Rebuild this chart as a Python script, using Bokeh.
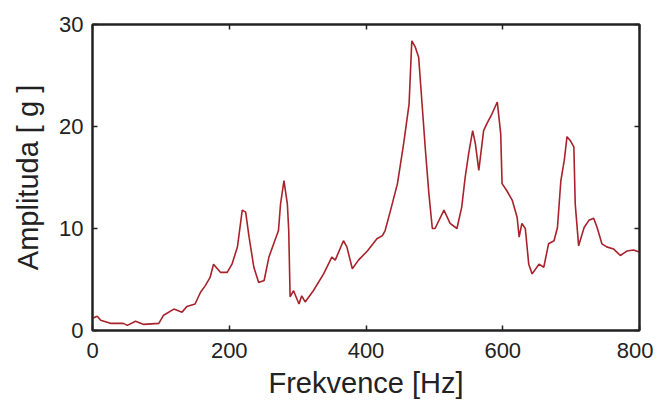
from bokeh.plotting import figure
from bokeh.models import LinearAxis, FixedTicker, Range1d
from bokeh.embed import file_html
from bokeh.resources import INLINE

freq_hz = [0, 7, 12, 26, 45, 51, 63, 75, 97, 104, 119, 131, 138, 150, 158, 165, 172, 177,
           187, 197, 204, 212, 219, 224, 229, 236, 243, 251, 258, 265, 272, 275, 280, 285,
           287, 289, 294, 302, 306, 311, 323, 338, 350, 355, 367, 372, 380, 389, 402, 416,
           424, 428, 436, 446, 455, 463, 467, 472, 477, 482, 487, 492, 497, 501, 514, 523,
           533, 540, 545, 550, 556, 560, 565, 572, 577, 584, 592, 597, 599, 606, 614, 621,
           624, 628, 633, 638, 643, 653, 660, 667, 675, 680, 685, 690, 694, 699, 704, 706,
           711, 719, 726, 733, 738, 745, 752, 762, 772, 782, 791, 800]
amplitude_g = [1.2, 1.4, 1.0, 0.7, 0.7, 0.5, 0.9, 0.6, 0.7, 1.5, 2.1, 1.8, 2.35, 2.6, 3.75,
               4.4, 5.2, 6.5, 5.7, 5.7, 6.5, 8.2, 11.8, 11.6, 9.15, 6.2, 4.7, 4.9, 7.2, 8.5,
               9.8, 12.4, 14.7, 12.4, 9.8, 3.3, 3.9, 2.6, 3.4, 2.8, 3.9, 5.55, 7.2, 6.9, 8.8,
               8.2, 6.05, 6.9, 7.8, 9.0, 9.3, 9.8, 11.8, 14.4, 18.3, 22.2, 28.4, 27.8, 26.8,
               22.2, 17.6, 13.4, 10.0, 10.0, 11.8, 10.5, 10.0, 12.1, 15.0, 17.3, 19.6, 18.3,
               15.7, 19.6, 20.3, 21.2, 22.4, 19.3, 14.4, 13.7, 12.75, 11.1, 9.15, 10.5, 10.0,
               6.5, 5.55, 6.5, 6.2, 8.5, 8.8, 10.1, 14.7, 16.7, 19.0, 18.6, 18.0, 12.4, 8.3,
               10.1, 10.8, 11.0, 10.1, 8.5, 8.2, 8.0, 7.35, 7.8, 7.9, 7.7]
x_ticks = [0, 200, 400, 600, 800]
y_ticks = [0, 10, 20, 30]
x_label = "Frekvence [Hz]"
y_label = "Amplituda [ g ]"

FONT = "Liberation Sans"

p = figure(frame_width=547, frame_height=306,
           min_border_left=92, min_border_right=14, min_border_top=24, min_border_bottom=69,
           x_range=Range1d(0, 800), y_range=Range1d(0, 30),
           output_backend="svg", toolbar_location=None,
           background_fill_color="white", border_fill_color="white")
p.xgrid.visible = False
p.ygrid.visible = False
p.outline_line_color = "#222222"
p.outline_line_width = 2

p.line(freq_hz, amplitude_g, line_color="#a8222b", line_width=1.6)

def style(ax, ticks, show_labels=True):
    ax.ticker = FixedTicker(ticks=ticks)
    ax.minor_tick_line_color = None
    ax.major_tick_in = 5
    ax.major_tick_out = 0
    ax.major_tick_line_color = "#222222"
    ax.major_tick_line_width = 1.5
    ax.axis_line_color = "#222222"
    ax.axis_line_width = 2
    ax.major_label_text_font = FONT
    ax.major_label_text_font_size = "22px"
    ax.major_label_text_color = "#222222"
    ax.axis_label_text_font = FONT
    ax.axis_label_text_font_size = "29px"
    ax.axis_label_text_font_style = "normal"
    ax.axis_label_text_color = "#222222"
    if not show_labels:
        ax.major_label_overrides = {t: "" for t in ticks}
        ax.major_label_text_font_size = "4px"
        ax.major_label_standoff = 0

style(p.xaxis[0], x_ticks)
p.xaxis[0].axis_label = x_label
p.xaxis[0].major_label_standoff = 12
p.xaxis[0].axis_label_standoff = 6

style(p.yaxis[0], y_ticks)
p.yaxis[0].axis_label = y_label
p.yaxis[0].major_label_standoff = 9
p.yaxis[0].axis_label_standoff = 12

top = LinearAxis()
style(top, x_ticks, show_labels=False)
p.add_layout(top, "above")
right = LinearAxis()
style(right, y_ticks, show_labels=False)
p.add_layout(right, "right")

open("out.html", "w").write(file_html(p, INLINE))
